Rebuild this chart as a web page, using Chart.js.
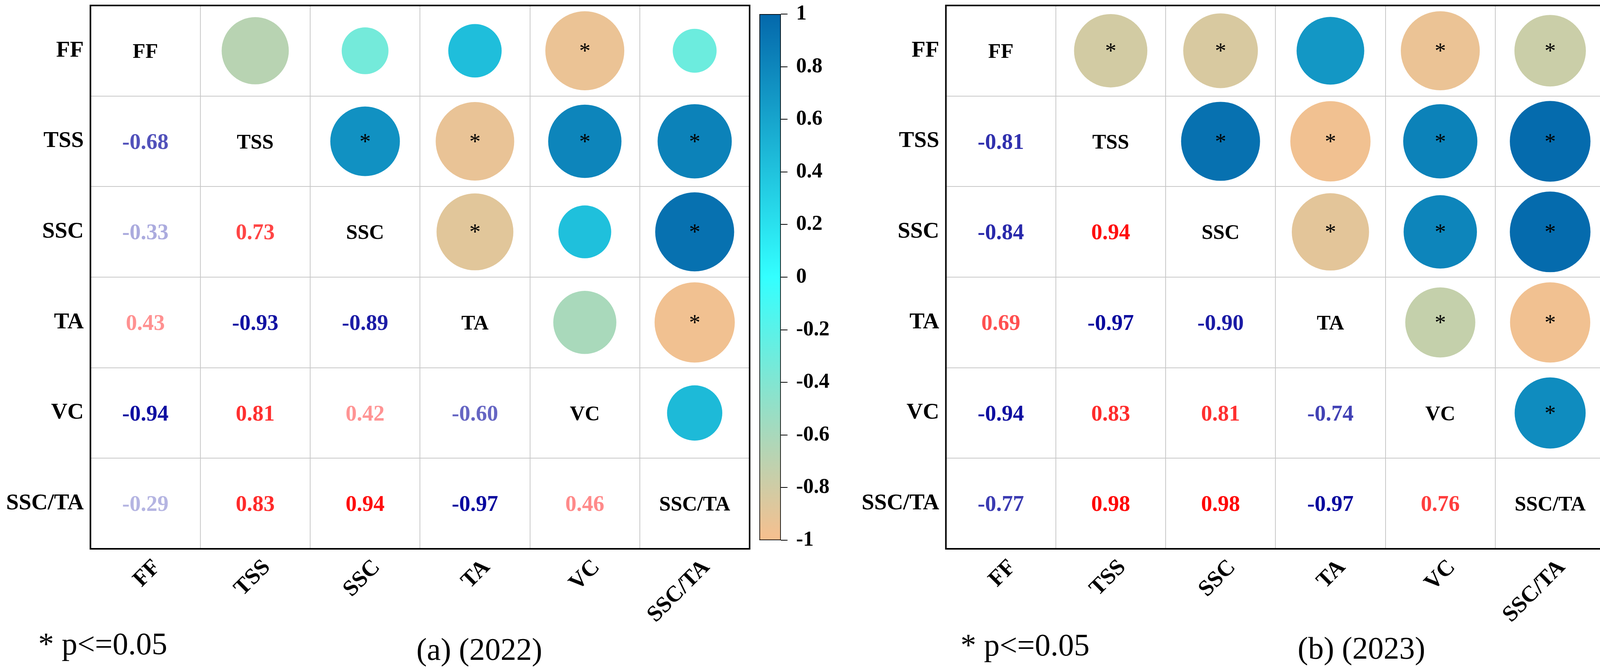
<!DOCTYPE html>
<html><head><meta charset="utf-8">
<script src="https://cdn.jsdelivr.net/npm/chart.js@4.4.1/dist/chart.umd.min.js"></script>
<style>
html,body{margin:0;padding:0;background:#fff;}
body{width:4331px;height:1714px;position:relative;overflow:hidden;font-family:"Liberation Serif","Times New Roman",serif;}
canvas{position:absolute;}
.note{position:absolute;font-size:80px;line-height:80px;white-space:nowrap;color:#000;}
</style></head><body>
<canvas id="mA" width="1925" height="1714" style="left:0px;top:0px"></canvas>
<canvas id="cA" width="200" height="1420" style="left:1930px;top:0px"></canvas>
<canvas id="mB" width="1925" height="1714" style="left:2190px;top:0px"></canvas>
<canvas id="cB" width="211" height="1420" style="left:4120px;top:0px"></canvas>
<div class="note" style="left:98px;top:1607px">* p&lt;=0.05</div>
<div class="note" style="left:1066px;top:1621px">(a) (2022)</div>
<div class="note" style="left:2459px;top:1610px">* p&lt;=0.05</div>
<div class="note" style="left:3322px;top:1618px">(b) (2023)</div>
<script>
// ---- data ----
const variables = ['FF', 'TSS', 'SSC', 'TA', 'VC', 'SSC/TA'];
// lower-triangle correlation matrices (row i, column j <= i)
const corr2022 = [
  [1],
  [-0.68, 1],
  [-0.33, 0.73, 1],
  [0.43, -0.93, -0.89, 1],
  [-0.94, 0.81, 0.42, -0.60, 1],
  [-0.29, 0.83, 0.94, -0.97, 0.46, 1]
];
const corr2023 = [
  [1],
  [-0.81, 1],
  [-0.84, 0.94, 1],
  [0.69, -0.97, -0.90, 1],
  [-0.94, 0.83, 0.81, -0.74, 1],
  [-0.77, 0.98, 0.98, -0.97, 0.76, 1]
];
// significance (p<=0.05) for each pair, same lower-triangle layout
const sig2022 = [
  [0],
  [0, 0],
  [0, 1, 0],
  [0, 1, 1, 0],
  [1, 1, 0, 0, 0],
  [0, 1, 1, 1, 0, 0]
];
const sig2023 = [
  [0],
  [1, 0],
  [1, 1, 0],
  [0, 1, 1, 0],
  [1, 1, 1, 1, 0],
  [1, 1, 1, 1, 1, 0]
];
const colorbarTicks = [-1, -0.8, -0.6, -0.4, -0.2, 0, 0.2, 0.4, 0.6, 0.8, 1];
const colorbarRange = [-1, 1];

// ---- layout / styling ----
const FONT = "'Liberation Serif', 'Times New Roman', serif";
Chart.defaults.font.family = FONT;
const PANEL_H = 1714, PLOT_TOP = 14, XAXIS_H = 310, YAXIS_W = 231.5;
const CELL_H = (PANEL_H - PLOT_TOP - XAXIS_H) / variables.length;
const C_NEG = [247, 191, 142], C_MID = [51, 255, 255], C_POS = [4, 104, 171];
function mix(a, b, t) { return a.map((v, k) => Math.round(v + (b[k] - v) * t)); }
function rgb(c) { return 'rgb(' + c.join(',') + ')'; }
function circleColor(v) { return rgb(v >= 0 ? mix(C_MID, C_POS, v) : mix(C_MID, C_NEG, -v)); }
function textColor(v) { return rgb(v >= 0 ? mix([255,255,255], [255,0,0], v) : mix([255,255,255], [0,0,155], -v)); }

function cellPlugin(corr, sig) {
  return {
    id: 'cells',
    afterDatasetsDraw(chart) {
      const {ctx, chartArea: a, scales: {x, y}} = chart;
      ctx.save();
      ctx.textAlign = 'center';
      ctx.textBaseline = 'alphabetic';
      for (let i = 0; i < variables.length; i++) {
        for (let j = 0; j <= i; j++) {
          const px = x.getPixelForValue(j), py = y.getPixelForValue(i);
          if (i === j) {
            ctx.font = 'bold 53px ' + FONT;
            ctx.fillStyle = '#000';
            ctx.fillText(variables[i], px, py + 18);
          } else {
            const v = corr[i][j];
            ctx.font = 'bold 57px ' + FONT;
            ctx.fillStyle = textColor(v);
            ctx.fillText(v.toFixed(2), px, py + 19);
            if (sig[i][j]) {
              const sx = x.getPixelForValue(i), sy = y.getPixelForValue(j);
              ctx.font = '58px ' + FONT;
              ctx.fillStyle = '#000';
              ctx.fillText('*', sx, sy + 19);
            }
          }
        }
      }
      ctx.lineWidth = 4;
      ctx.strokeStyle = '#000';
      ctx.strokeRect(a.left, a.top, a.right - a.left, a.bottom - a.top);
      ctx.restore();
    }
  };
}

function makeMain(id, corr, sig) {
  const pts = [];
  for (let i = 0; i < variables.length; i++)
    for (let j = i + 1; j < variables.length; j++)
      pts.push({x: variables[j], y: variables[i], v: corr[j][i]});
  const gridOpt = {offset: true, color: '#c8c8c8', lineWidth: 2, drawTicks: false};
  const tickFont = {family: FONT, size: 58, weight: 'bold'};
  new Chart(document.getElementById(id), {
    type: 'bubble',
    data: {datasets: [{
      data: pts,
      backgroundColor: c => c.raw ? circleColor(c.raw.v) : '#000',
      borderWidth: 0,
      hoverBorderWidth: 0,
      hoverRadius: 0,
      radius: c => c.raw ? Math.sqrt(Math.abs(c.raw.v)) * CELL_H * 0.45 : 0
    }]},
    options: {
      responsive: false, animation: false, events: [],
      layout: {autoPadding: false, padding: {left: 0, top: PLOT_TOP, right: 6, bottom: 0}},
      plugins: {legend: {display: false}, tooltip: {enabled: false}},
      scales: {
        x: {type: 'category', labels: variables, offset: true, position: 'bottom',
            grid: gridOpt, border: {display: false},
            ticks: {autoSkip: false, minRotation: 45, maxRotation: 45, padding: 14, labelOffset: 30, font: tickFont, color: '#000'},
            afterFit: s => { s.height = XAXIS_H; s.paddingLeft = 0; s.paddingRight = 0; }},
        y: {type: 'category', labels: variables, offset: true, position: 'left',
            grid: gridOpt, border: {display: false},
            ticks: {autoSkip: false, padding: 17, font: tickFont, color: '#000'},
            afterFit: s => { s.width = YAXIS_W; s.paddingTop = 0; s.paddingBottom = 0; }}
      }
    },
    plugins: [cellPlugin(corr, sig)]
  });
}

function makeColorbar(id) {
  const el = document.getElementById(id);
  const W = el.width;
  new Chart(el, {
    type: 'bar',
    data: {labels: [''], datasets: [{
      data: [colorbarRange],
      backgroundColor: c => {
        const a = c.chart.chartArea;
        if (!a) return '#fff';
        const g = c.chart.ctx.createLinearGradient(0, a.bottom, 0, a.top);
        g.addColorStop(0, rgb(C_NEG)); g.addColorStop(0.5, rgb(C_MID)); g.addColorStop(1, rgb(C_POS));
        return g;
      },
      borderColor: '#000', borderWidth: 2, borderSkipped: false,
      barPercentage: 1, categoryPercentage: 1
    }]},
    options: {
      responsive: false, animation: false, events: [],
      layout: {autoPadding: false, padding: {left: 14, top: 36, right: 0, bottom: 38}},
      plugins: {legend: {display: false}, tooltip: {enabled: false}},
      scales: {
        x: {display: false},
        y: {position: 'right', min: -1, max: 1,
            afterBuildTicks: s => { s.ticks = colorbarTicks.map(v => ({value: v})); },
            ticks: {padding: 22, color: '#000', font: {family: FONT, size: 54, weight: 'bold'},
                    callback: v => String(Math.round(v * 10) / 10)},
            grid: {drawOnChartArea: false, tickLength: 17, color: '#000', lineWidth: 2},
            border: {display: false},
            afterFit: s => { s.width = W - 14 - 55; s.paddingTop = 0; s.paddingBottom = 0; }}
      }
    }
  });
}

makeMain('mA', corr2022, sig2022);
makeMain('mB', corr2023, sig2023);
makeColorbar('cA');
makeColorbar('cB');
</script>
</body></html>
